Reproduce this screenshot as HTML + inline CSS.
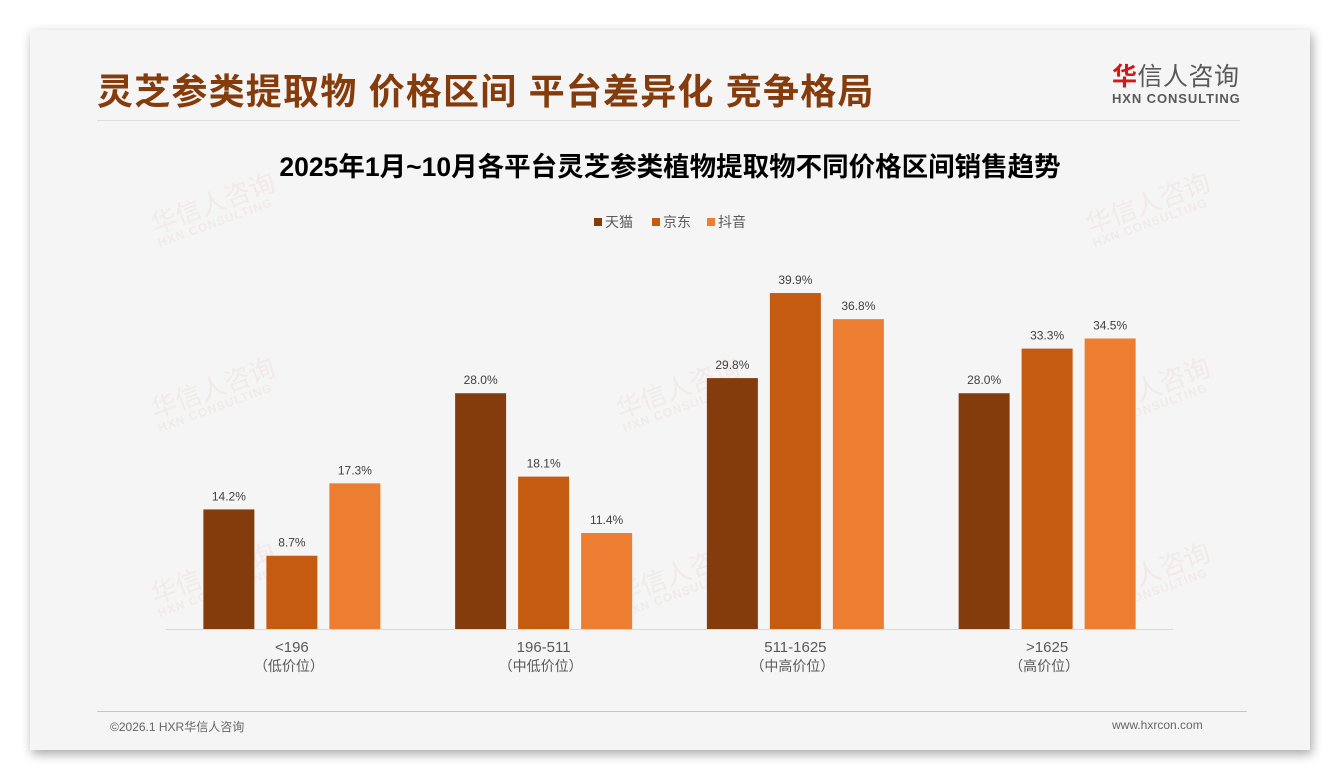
<!DOCTYPE html>
<html><head><meta charset="utf-8">
<style>
body{margin:0;width:1340px;height:780px;background:#fff;position:relative;overflow:hidden;font-family:"Liberation Sans","Noto Sans CJK SC",sans-serif;}
#card{position:absolute;left:30px;top:30px;width:1280px;height:720px;background:#f5f5f5;box-shadow:2px 4px 10px rgba(0,0,0,0.35);}
.abs{position:absolute;}
.wm{position:absolute;color:rgba(220,120,120,0.09);font-size:26px;transform:rotate(-20deg);white-space:nowrap;line-height:1;}
.wm span{display:block;font-size:12px;font-weight:bold;letter-spacing:1px;}
</style></head><body>
<div id="card"></div>
<div class="abs" style="left:97px;top:70px;font-size:36px;font-weight:bold;color:#843c0c;letter-spacing:1.2px;line-height:44px;white-space:nowrap;">灵芝参类提取物 价格区间 平台差异化 竞争格局</div>
<div class="abs" style="left:97px;top:120px;width:1143px;height:1px;background:#ddd;"></div>
<div class="abs" style="left:1112px;top:62px;width:130px;">
 <div style="font-size:25px;line-height:30px;color:#595959;white-space:nowrap;letter-spacing:0.5px;"><span style="color:#d01a1a;font-weight:bold;">华</span>信人咨询</div>
 <div style="font-size:13px;font-weight:bold;color:#595959;line-height:14px;white-space:nowrap;letter-spacing:0.9px;">HXN CONSULTING</div>
</div>
<div class="wm" style="left:150px;top:190px;">华信人咨询<span>HXN CONSULTING</span></div>
<div class="wm" style="left:1085px;top:190px;">华信人咨询<span>HXN CONSULTING</span></div>
<div class="wm" style="left:150px;top:375px;">华信人咨询<span>HXN CONSULTING</span></div>
<div class="wm" style="left:615px;top:375px;">华信人咨询<span>HXN CONSULTING</span></div>
<div class="wm" style="left:1085px;top:375px;">华信人咨询<span>HXN CONSULTING</span></div>
<div class="wm" style="left:150px;top:560px;">华信人咨询<span>HXN CONSULTING</span></div>
<div class="wm" style="left:615px;top:560px;">华信人咨询<span>HXN CONSULTING</span></div>
<div class="wm" style="left:1085px;top:560px;">华信人咨询<span>HXN CONSULTING</span></div>
<svg id="chart" class="abs" style="left:0;top:0" width="1340" height="780"></svg>
<div class="abs" style="left:97px;top:711px;width:1150px;height:1px;background:#dcc0aa;"></div>
<div class="abs" style="left:110px;top:718px;font-size:12px;color:#666;">©2026.1 HXR华信人咨询</div>
<div class="abs" style="left:1112px;top:718px;font-size:12px;color:#666;">www.hxrcon.com</div>
<script>
const categories=["<196","196-511","511-1625",">1625"];
const subLabels=["（低价位）","（中低价位）","（中高价位）","（高价位）"];
const seriesNames=["天猫","京东","抖音"];
const tmall=[14.2,28.0,29.8,28.0];
const jd=[8.7,18.1,39.9,33.3];
const douyin=[17.3,11.4,36.8,34.5];
const colors=["#843c0c","#c55a11","#ed7d31"];
const series=[tmall,jd,douyin];
const svg=document.getElementById('chart');
const NS='http://www.w3.org/2000/svg';
const x0=166,x1=1173,base=629,pxPer=8.42;
const band=(x1-x0)/categories.length;
const y=v=>base-v*pxPer;
function mk(t,a){const e=document.createElementNS(NS,t);for(const k in a)e.setAttribute(k,a[k]);svg.appendChild(e);return e;}
let t=mk('text',{x:670,y:176,'text-anchor':'middle','font-size':26.5,'font-weight':'bold',fill:'#000'});
t.textContent='2025年1月~10月各平台灵芝参类植物提取物不同价格区间销售趋势';


const legX=[594,652,707];
seriesNames.forEach((n,i)=>{
 const r=mk('rect',{x:legX[i],y:218,width:8,height:8,fill:colors[i]});
 
 
 const lt=mk('text',{x:legX[i]+11,y:227,'font-size':14,fill:'#595959'});
 lt.textContent=n;
 
 
});
const ax=mk('line',{x1:x0,x2:x1,y1:base+0.5,y2:base+0.5,stroke:'#d9d9d9','stroke-width':1});


const bw=51,step=63;
categories.forEach((c,ci)=>{
 const cx=x0+band*(ci+0.5);
 series.forEach((s,si)=>{
  const bx=cx-bw/2+(si-1)*step;
  const r=mk('rect',{x:bx,y:y(s[ci]),width:bw,height:s[ci]*pxPer,fill:colors[si]});
  
  
  const vt=mk('text',{x:bx+bw/2,y:y(s[ci])-9,'text-anchor':'middle','font-size':12,fill:'#404040'});
  vt.textContent=s[ci].toFixed(1)+'%';
  
  
 });
 const l1=mk('text',{x:cx,y:652,'text-anchor':'middle','font-size':15,fill:'#595959'});
 l1.textContent=c;
 
 
 const l2=mk('text',{x:cx-3,y:671,'text-anchor':'middle','font-size':14,fill:'#595959'});
 l2.textContent=subLabels[ci];
 
 
});
</script>
</body></html>
